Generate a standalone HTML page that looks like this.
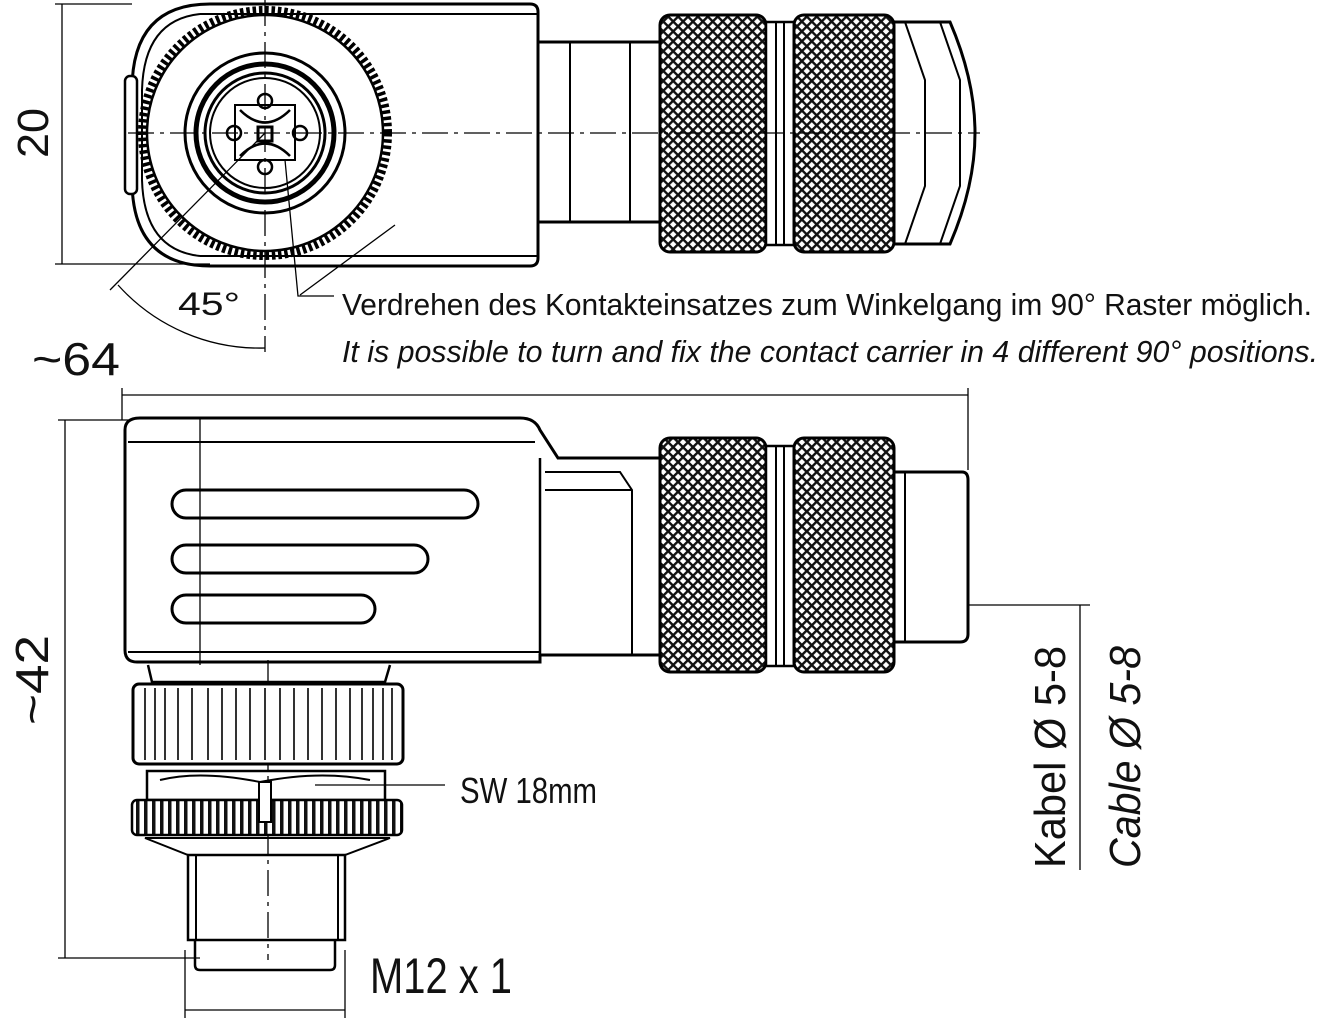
<!DOCTYPE html>
<html><head><meta charset="utf-8"><style>html,body{margin:0;padding:0;background:#fff}svg{display:block}text{font-family:"Liberation Sans Narrow","Liberation Sans",sans-serif;fill:#111}</style></head>
<body>
<svg width="1320" height="1021" viewBox="0 0 1320 1021" xmlns="http://www.w3.org/2000/svg">
<defs>
<pattern id="kn" width="7" height="7" patternUnits="userSpaceOnUse" patternTransform="rotate(45)">
<rect width="7" height="7" fill="#fff"/>
<rect width="7" height="2.4" fill="#111"/><rect width="2.4" height="7" fill="#111"/>
</pattern>
<pattern id="teeth" width="8" height="40" patternUnits="userSpaceOnUse">
<rect width="8" height="40" fill="#fff"/>
<rect width="3.5" height="40" fill="#111"/>
</pattern>
</defs>
<g fill="none" stroke="#000" stroke-width="3">
<!-- TOP VIEW -->
<path d="M210 4 H530 Q538 4 538 12 V258 Q538 266 530 266 H210 Q132 266 132 180 V90 Q132 4 210 4 Z"/>
<path d="M200 14 Q144 20 142 90 V180 Q144 250 200 256" stroke-width="2"/>
<line x1="200" y1="14" x2="538" y2="14" stroke-width="2"/>
<line x1="200" y1="256" x2="538" y2="256" stroke-width="2"/>
<rect x="125" y="76" width="12" height="118" rx="5" stroke-width="2.5" fill="#fff"/>
<circle cx="265" cy="133" r="123" stroke-width="8" stroke-dasharray="3.5 2.8"/>
<circle cx="265" cy="133" r="118" fill="#fff" stroke-width="2.5"/>
<circle cx="265" cy="133" r="80" stroke-width="3"/>
<circle cx="265" cy="133" r="69" stroke-width="5"/>
<circle cx="265" cy="133" r="60" stroke-width="3"/>
<circle cx="265" cy="133" r="55" stroke-width="2"/>
<path d="M235 105 L295 105 L295 160 L235 160 Z" stroke-width="2"/>
<path d="M240 110 Q265 135 290 110 M240 156 Q265 131 290 156" stroke-width="2.5"/>
<circle cx="265" cy="101" r="7" stroke-width="2.5"/><circle cx="265" cy="167" r="7" stroke-width="2.5"/>
<circle cx="234" cy="133" r="7" stroke-width="2.5"/><circle cx="300" cy="133" r="7" stroke-width="2.5"/>
<rect x="258" y="127" width="14" height="14" stroke-width="3"/>
<rect x="538" y="42" width="122" height="180" stroke-width="3"/>
<line x1="570" y1="42" x2="570" y2="222" stroke-width="2"/>
<line x1="630" y1="42" x2="630" y2="222" stroke-width="2"/>
<rect x="660" y="15" width="106" height="237" rx="10" fill="url(#kn)"/>
<rect x="766" y="22" width="28" height="223" fill="#fff" stroke-width="2.5"/>
<line x1="776" y1="22" x2="776" y2="245" stroke-width="2"/><line x1="784" y1="22" x2="784" y2="245" stroke-width="2"/>
<rect x="794" y="15" width="100" height="237" rx="10" fill="url(#kn)"/>
<path d="M894 22 H950 Q975 80 975 133 Q975 186 950 244 H894" stroke-width="3"/>
<path d="M905 22 L925 80 V186 L905 244 M940 22 L960 80 V186 L940 244" stroke-width="2"/>
<g stroke-width="1.3">
<line x1="128" y1="133" x2="980" y2="133" stroke-dasharray="26 6 4 6"/>
<line x1="265" y1="0" x2="265" y2="352" stroke-dasharray="26 6 4 6"/>
<line x1="62" y1="4" x2="62" y2="264"/><line x1="55" y1="4" x2="132" y2="4"/><line x1="55" y1="264" x2="210" y2="264"/>
<line x1="110" y1="290" x2="265" y2="133"/>
<line x1="300" y1="295" x2="395" y2="225"/>
<path d="M118 285 A190 190 0 0 0 265 348"/>
<path d="M285 160 L298 296 L334 296"/>
</g>
<!-- SIDE VIEW -->
<g stroke-width="1.3">
<line x1="122" y1="395" x2="968" y2="395"/><line x1="122" y1="388" x2="122" y2="420"/><line x1="968" y1="388" x2="968" y2="470"/>
<line x1="65" y1="420" x2="65" y2="958"/><line x1="58" y1="420" x2="130" y2="420"/><line x1="58" y1="958" x2="200" y2="958"/>
<line x1="200" y1="418" x2="200" y2="665"/>
<line x1="268" y1="660" x2="268" y2="960" stroke-dasharray="26 6 4 6"/>
<line x1="185" y1="950" x2="185" y2="1018"/><line x1="345" y1="950" x2="345" y2="1018"/>
<line x1="185" y1="1010" x2="345" y2="1010"/>
<line x1="315" y1="785" x2="445" y2="785"/>
<line x1="968" y1="605" x2="1090" y2="605"/><line x1="1080" y1="605" x2="1080" y2="870"/>
</g>
<path d="M140 418 H520 Q535 418 540 430 L558 458 H660 V655 H540 V662 H137 Q125 662 125 650 V430 Q125 418 140 418 Z"/>
<line x1="128" y1="442" x2="535" y2="442" stroke-width="2"/>
<line x1="128" y1="652" x2="540" y2="652" stroke-width="2"/>
<rect x="172" y="490" width="306" height="28" rx="14"/>
<rect x="172" y="545" width="256" height="28" rx="14"/>
<rect x="172" y="595" width="203" height="28" rx="14"/>
<line x1="540" y1="458" x2="540" y2="655" stroke-width="2.5"/>
<path d="M545 472 H620 L632 490 V655 M545 490 H632" stroke-width="2"/>
<rect x="660" y="438" width="106" height="234" rx="10" fill="url(#kn)"/>
<rect x="766" y="446" width="28" height="220" fill="#fff" stroke-width="2.5"/>
<line x1="776" y1="446" x2="776" y2="666" stroke-width="2"/><line x1="784" y1="446" x2="784" y2="666" stroke-width="2"/>
<rect x="794" y="438" width="100" height="234" rx="10" fill="url(#kn)"/>
<path d="M894 472 H962 Q968 472 968 480 V634 Q968 642 960 642 H894" stroke-width="3"/>
<line x1="905" y1="472" x2="905" y2="642" stroke-width="2"/>
<path d="M148 665 L152 682 H385 L390 665" stroke-width="2.5"/>
<rect x="133" y="684" width="270" height="80" rx="6" fill="#fff"/>
<g stroke-width="1.6">
<path d="M145 688V760M155 688V760M165 688V760M178 688V760M192 688V760M208 688V760M222 688V760M236 688V760M250 688V760M265 688V760M280 688V760M294 688V760M308 688V760M322 688V760M336 688V760M350 688V760M362 688V760M373 688V760M383 688V760M392 688V760"/>
</g>
<path d="M147 771 H385 V800 H147 Z" stroke-width="2.5"/>
<path d="M160 780 Q200 770 260 782 Q320 770 370 780" stroke-width="2"/>
<rect x="132" y="800" width="270" height="35" rx="5" fill="url(#teeth)" stroke-width="2.5"/>
<rect x="259" y="782" width="12" height="40" stroke-width="2" fill="#fff"/>
<path d="M145 838 H390 L345 855 H188 Z" stroke-width="2"/>
<rect x="188" y="855" width="157" height="85" stroke-width="2.5"/>
<line x1="196" y1="855" x2="196" y2="940" stroke-width="2"/><line x1="338" y1="855" x2="338" y2="940" stroke-width="2"/>
<path d="M195 940 V965 Q195 970 200 970 H330 Q335 970 335 965 V940" stroke-width="2.5"/>
</g>
<text x="342" y="315" font-size="31" textLength="970" lengthAdjust="spacingAndGlyphs">Verdrehen des Kontakteinsatzes zum Winkelgang im 90° Raster möglich.</text>
<text x="342" y="362" font-size="31" font-style="italic" textLength="976" lengthAdjust="spacingAndGlyphs">It is possible to turn and fix the contact carrier in 4 different 90° positions.</text>
<text x="178" y="315" font-size="32" textLength="62" lengthAdjust="spacingAndGlyphs">45°</text>
<text x="32" y="375" font-size="46" textLength="88" lengthAdjust="spacingAndGlyphs">~64</text>
<text transform="translate(48,158) rotate(-90)" font-size="44" textLength="50" lengthAdjust="spacingAndGlyphs">20</text>
<text transform="translate(48,725) rotate(-90)" font-size="46" textLength="90" lengthAdjust="spacingAndGlyphs">~42</text>
<text x="460" y="803" font-size="36" textLength="137" lengthAdjust="spacingAndGlyphs">SW 18mm</text>
<text x="370" y="993" font-size="50" textLength="142" lengthAdjust="spacingAndGlyphs">M12 x 1</text>
<text transform="translate(1065,868) rotate(-90)" font-size="44" textLength="222" lengthAdjust="spacingAndGlyphs">Kabel Ø 5-8</text>
<text transform="translate(1140,868) rotate(-90)" font-size="44" font-style="italic" textLength="222" lengthAdjust="spacingAndGlyphs">Cable Ø 5-8</text>
</svg>
</body></html>
